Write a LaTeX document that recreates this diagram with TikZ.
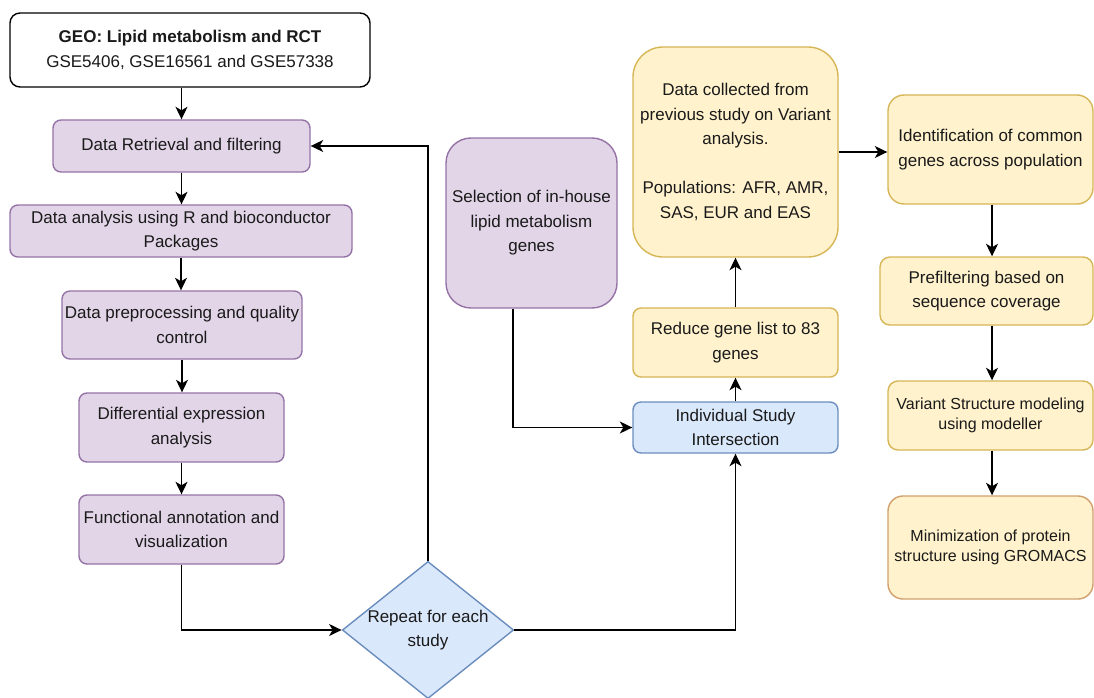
\documentclass[tikz,border=0pt]{standalone}
\usepackage{fontspec}
\setmainfont{Liberation Sans}
\usetikzlibrary{shapes.geometric,arrows.meta}
\definecolor{pfill}{HTML}{E1D5E7}
\definecolor{pline}{HTML}{9673A6}
\definecolor{yfill}{HTML}{FFF2CC}
\definecolor{yline}{HTML}{D6B656}
\definecolor{oline}{HTML}{D2A06E}
\definecolor{bfill}{HTML}{DAE8FC}
\definecolor{bline}{HTML}{6C8EBF}
\definecolor{txt}{HTML}{1A1A1A}
\tikzset{
  box/.style={draw, line width=1.4pt, rounded corners=#1, inner sep=0pt, align=center,
    text=txt, font=\fontsize{17}{24.5}\selectfont},
  box/.default=8pt,
  purplebox/.style={box=#1, fill=pfill, draw=pline},
  purplebox/.default=8pt,
  yellowbox/.style={box=#1, fill=yfill, draw=yline},
  yellowbox/.default=8pt,
  bluebox/.style={box=#1, fill=bfill, draw=bline},
  bluebox/.default=8pt,
  arr/.style={line width=1.4pt, draw=black, -{Stealth[length=12.5pt,width=12pt,inset=3.5pt]}},
}
\begin{document}
\begin{tikzpicture}[x=1pt,y=-1pt]
\useasboundingbox[fill=white] (0,0) rectangle (1094,698);

% left column
\node[box=10pt, fill=white, draw=black, minimum width=360pt, minimum height=74pt] (geo) at (190,50)
  {\textbf{GEO: Lipid metabolism and RCT}\\GSE5406, GSE16561 and GSE57338};
\node[purplebox, minimum width=257pt, minimum height=52pt] (dr) at (181.5,146)
  {Data Retrieval and filtering};
\node[purplebox, minimum width=342pt, minimum height=52pt] (da) at (181,231)
  {Data analysis using R and bioconductor\\Packages};
\node[purplebox, minimum width=240pt, minimum height=68pt] (dp) at (182,325)
  {Data preprocessing and quality\\control};
\node[purplebox, minimum width=205pt, minimum height=69pt] (de) at (181.5,427.5)
  {Differential expression\\analysis};
\node[purplebox, minimum width=205pt, minimum height=69pt] (fa) at (181.5,529.5)
  {Functional annotation and\\visualization};
\node[diamond, draw=bline, fill=bfill, line width=1.4pt, inner sep=0pt,
  minimum width=170pt, minimum height=136pt, shape aspect=1.25, align=center, text=txt,
  font=\fontsize{17}{24.5}\selectfont] (rep) at (428,630)
  {Repeat for each\\study};

% middle
\node[purplebox=25pt, minimum width=171pt, minimum height=170pt] (sel) at (531.5,223)
  {Selection of in-house\\lipid metabolism\\genes};
\node[yellowbox=30pt, minimum width=205pt, minimum height=210pt] (dc) at (735.5,152)
  {Data collected from\\previous study on Variant\\analysis.\\[24.5pt]Populations: AFR, AMR,\\SAS, EUR and EAS};
\node[yellowbox, minimum width=205pt, minimum height=69pt] (rg) at (735.5,342.5)
  {Reduce gene list to 83\\genes};
\node[bluebox, minimum width=205pt, minimum height=51pt] (isi) at (735.5,427.5)
  {Individual Study\\Intersection};

% right column
\node[yellowbox=16pt, minimum width=205pt, minimum height=109pt] (ident) at (990.5,149.5)
  {Identification of common\\genes across population};
\node[yellowbox=10pt, minimum width=213pt, minimum height=68pt] (pref) at (986.5,291)
  {Prefiltering based on\\sequence coverage};
\node[yellowbox=10pt, minimum width=205pt, minimum height=69pt,
  font=\fontsize{16}{20.5}\selectfont] (var) at (990.5,415.5)
  {Variant Structure modeling\\using modeller};
\node[yellowbox=15pt, draw=oline, minimum width=205pt, minimum height=103pt,
  font=\fontsize{16}{19.5}\selectfont] (mini) at (990.5,547.5)
  {Minimization of protein\\structure using GROMACS};

% connectors
\draw[arr] (dr.north |- geo.south) -- (dr.north);
\draw[arr] (dr.south) -- (da.north -| dr.south);
\draw[arr] (da.south) -- (dp.north -| da.south);
\draw[arr] (dp.south) -- (de.north -| dp.south);
\draw[arr] (de.south) -- (fa.north);
\draw[arr] (fa.south) |- (rep.west);
\draw[arr] (rep.north) |- (dr.east);
\draw[arr] (rep.east) -| (isi.south);
\draw[arr] ([xshift=-18.5pt]sel.south) |- (isi.west);
\draw[arr] (isi.north) -- (rg.south);
\draw[arr] (rg.north) -- (dc.south);
\draw[arr] (dc.east) -- (dc.east -| ident.west);
\draw[arr] ([xshift=1.5pt]ident.south) -- ([xshift=1.5pt]ident.south |- pref.north);
\draw[arr] ([xshift=1.5pt]ident.south |- pref.south) -- ([xshift=1.5pt]ident.south |- var.north);
\draw[arr] ([xshift=1.5pt]var.south) -- ([xshift=1.5pt]var.south |- mini.north);
\end{tikzpicture}
\end{document}
